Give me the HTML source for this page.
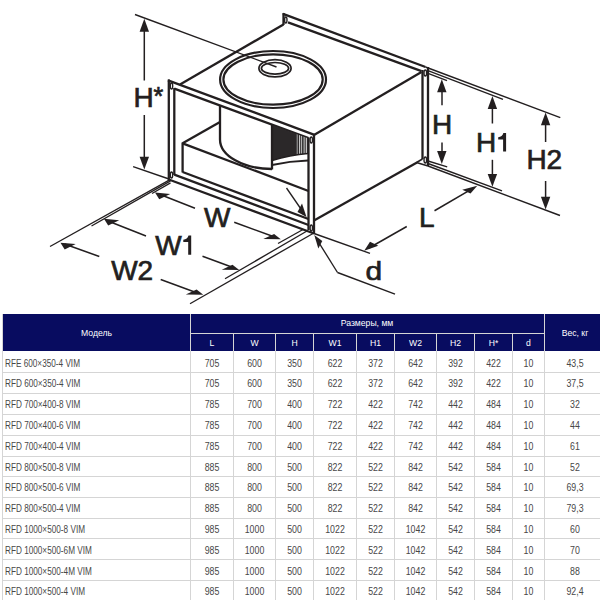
<!DOCTYPE html>
<html><head><meta charset="utf-8">
<style>
html,body{margin:0;padding:0;background:#fff;}
body{width:600px;height:600px;position:relative;overflow:hidden;font-family:"Liberation Sans",sans-serif;}
.a{position:absolute;}
.h{color:#fff;font-size:9.6px;text-align:center;letter-spacing:0px;white-space:nowrap;transform:scaleX(0.9);}
.b{color:#474747;font-size:10px;letter-spacing:0px;white-space:nowrap;transform:scaleX(0.88);}
.c{text-align:center;}
.m{letter-spacing:0px;transform:scaleX(0.82);transform-origin:0 50%;}
svg{position:absolute;left:0;top:0;}
</style></head><body>
<svg width="600" height="310" viewBox="0 0 600 310">
<g fill="none" stroke="#231f20" stroke-linecap="butt">
<line x1="180" y1="84.5" x2="283.5" y2="24.5" stroke-width="2.3"/>
<line x1="283.5" y1="13" x2="283.5" y2="25" stroke-width="2.3"/>
<line x1="283" y1="13.8" x2="425.5" y2="67" stroke-width="2.3"/>
<line x1="288" y1="22.3" x2="421.5" y2="71.2" stroke-width="2.3"/>
<ellipse cx="285.8" cy="20" rx="1.2" ry="3" stroke-width="1.4"/>
<line x1="422.5" y1="70" x2="422.5" y2="159" stroke-width="2.3"/>
<line x1="428" y1="67" x2="428" y2="166" stroke-width="2.3"/>
<ellipse cx="425.3" cy="73" rx="1.3" ry="3" stroke-width="1.4"/>
<ellipse cx="425.3" cy="160" rx="1.3" ry="3" stroke-width="1.4"/>
<line x1="416.5" y1="162.5" x2="422.5" y2="159" stroke-width="1.6"/>
<line x1="416.5" y1="162.5" x2="428" y2="166" stroke-width="1.6"/>
<line x1="314" y1="135" x2="421.5" y2="72" stroke-width="2.3"/>
<line x1="314" y1="220.5" x2="417" y2="162.5" stroke-width="2.3"/>
<line x1="168.8" y1="79.5" x2="168.8" y2="180.5" stroke-width="2.3"/>
<line x1="174.3" y1="88" x2="174.3" y2="175" stroke-width="2.3"/>
<line x1="168" y1="80.3" x2="314.5" y2="134.8" stroke-width="2.3"/>
<line x1="174.3" y1="88.7" x2="308.5" y2="138" stroke-width="2.3"/>
<line x1="314" y1="134" x2="314" y2="234" stroke-width="2.3"/>
<line x1="308.5" y1="137.5" x2="308.5" y2="230" stroke-width="2.3"/>
<line x1="174.3" y1="174.7" x2="308.5" y2="225" stroke-width="2.3"/>
<line x1="168.8" y1="179.5" x2="314" y2="233.5" stroke-width="2.3"/>
<ellipse cx="171.5" cy="86" rx="1.2" ry="3" stroke-width="1.4"/>
<ellipse cx="171.5" cy="175" rx="1.2" ry="3" stroke-width="1.4"/>
<ellipse cx="311.3" cy="140" rx="1.2" ry="3" stroke-width="1.4"/>
<ellipse cx="311.3" cy="228" rx="1.2" ry="3" stroke-width="1.4"/>
<line x1="182.6" y1="143.3" x2="220" y2="122" stroke-width="2.3"/>
<line x1="182.6" y1="143.3" x2="308.5" y2="191" stroke-width="2.3"/>
<line x1="182.6" y1="142.5" x2="182.6" y2="172.5" stroke-width="2.3"/>
<line x1="182.6" y1="172" x2="308.5" y2="219" stroke-width="2.3"/>
</g>
<path d="M272,125 L308,138.2 L308,153.5 Q290,155 272,160.5 Z" fill="#2b2829"/>
<defs><clipPath id="imp"><path d="M272,125 L308.5,138.4 L308.5,153.5 Q290,155 272,160.5 Z"/></clipPath><linearGradient id="g1" x1="0" x2="1" y1="0" y2="0"><stop offset="0" stop-color="#2b2829"/><stop offset="1" stop-color="#9a9a9a"/></linearGradient><linearGradient id="g2" x1="0" x2="1" y1="0" y2="0"><stop offset="0" stop-color="#4a4a4a"/><stop offset="1" stop-color="#a0a0a0"/></linearGradient></defs>
<g clip-path="url(#imp)">
<rect x="295.8" y="120" width="2.2" height="45" fill="url(#g1)"/>
<rect x="299" y="120" width="1.1" height="45" fill="#c4c4c4"/>
<rect x="300.9" y="120" width="1.1" height="45" fill="#b0b0b0"/>
<rect x="302.5" y="120" width="2.5" height="45" fill="url(#g2)"/>
<rect x="305.7" y="120" width="1.3" height="45" fill="#c6c6c6"/>
</g>
<g fill="none" stroke="#231f20">
<path d="M220,105.5 L220,139.5 A52,29.5 0 0 0 272,169" stroke-width="2.3" fill="none"/>
<line x1="272" y1="124.5" x2="272" y2="169.5" stroke-width="2.3"/>
<path d="M272,160.5 Q290,155 308,153.5" stroke-width="1.5" fill="none"/>
<path d="M272,165 Q290,161 308,160.5" stroke-width="1.8" fill="none"/>
<ellipse cx="273.05" cy="79.5" rx="52.95" ry="28.5" stroke-width="2.2"/>
<ellipse cx="273.05" cy="79.5" rx="49.65" ry="25.2" stroke-width="2.2"/>
<ellipse cx="275" cy="68.3" rx="16.1" ry="8.6" stroke-width="1.7"/>
<ellipse cx="275" cy="68.3" rx="13.6" ry="5.8" stroke-width="1.7"/>
<line x1="135" y1="14.5" x2="276.5" y2="67" stroke-width="1.35"/>
<line x1="133.1" y1="166.7" x2="168.3" y2="178.75" stroke-width="1.35"/>
<line x1="170.5" y1="182.8" x2="152" y2="193.5" stroke-width="1.35"/>
<line x1="170.5" y1="180.8" x2="91.5" y2="226" stroke-width="1.35"/>
<line x1="170.5" y1="179.3" x2="50" y2="246.5" stroke-width="1.35"/>
<line x1="303" y1="229.5" x2="278" y2="243.5" stroke-width="1.35"/>
<line x1="307" y1="231" x2="225" y2="278.75" stroke-width="1.35"/>
<line x1="313" y1="233.5" x2="190" y2="303.75" stroke-width="1.35"/>
<line x1="425.5" y1="67" x2="560.3" y2="117.7" stroke-width="1.35"/>
<line x1="428" y1="70.7" x2="503" y2="99.3" stroke-width="1.35"/>
<line x1="428" y1="73.3" x2="447" y2="80.7" stroke-width="1.35"/>
<line x1="428" y1="166" x2="560" y2="215.5" stroke-width="1.35"/>
<line x1="428" y1="163.5" x2="502" y2="190.8" stroke-width="1.35"/>
<line x1="428" y1="161" x2="447.2" y2="166.8" stroke-width="1.35"/>
<line x1="314" y1="233.5" x2="370" y2="253.3" stroke-width="1.35"/>
<line x1="316" y1="238" x2="337.5" y2="272.5" stroke-width="1.35"/>
<line x1="337.5" y1="272.5" x2="395" y2="294.2" stroke-width="1.35"/>
<line x1="286.5" y1="188" x2="303" y2="212" stroke-width="1.35"/>
<line x1="144.3" y1="25" x2="144.3" y2="80.5" stroke-width="1.5"/>
<line x1="144.3" y1="115" x2="144.3" y2="163" stroke-width="1.5"/>
<line x1="442" y1="85" x2="442" y2="105.3" stroke-width="1.5"/>
<line x1="442" y1="142.5" x2="442" y2="158" stroke-width="1.5"/>
<line x1="492.4" y1="102" x2="492.4" y2="123.5" stroke-width="1.5"/>
<line x1="492.4" y1="159.8" x2="492.4" y2="181" stroke-width="1.5"/>
<line x1="545.6" y1="118" x2="545.6" y2="142" stroke-width="1.5"/>
<line x1="545.6" y1="181" x2="545.6" y2="204" stroke-width="1.5"/>
<line x1="162" y1="195.2" x2="195" y2="208.3" stroke-width="1.5"/>
<line x1="234.2" y1="222.3" x2="276" y2="237.5" stroke-width="1.5"/>
<line x1="108" y1="221" x2="146" y2="236" stroke-width="1.5"/>
<line x1="202.5" y1="256.25" x2="233" y2="267.5" stroke-width="1.5"/>
<line x1="64.5" y1="244" x2="99.3" y2="256.5" stroke-width="1.5"/>
<line x1="160.7" y1="279.5" x2="198" y2="293.2" stroke-width="1.5"/>
<line x1="369" y1="248" x2="406.75" y2="226.5" stroke-width="1.5"/>
<line x1="434.5" y1="210.75" x2="472" y2="188.8" stroke-width="1.5"/>
</g>
<polygon points="144.30,18.80 139.60,31.70 149.00,31.70" fill="#231f20" stroke="none"/>
<polygon points="144.30,169.60 139.60,156.70 149.00,156.70" fill="#231f20" stroke="none"/>
<polygon points="441.80,79.30 437.10,92.20 446.50,92.20" fill="#231f20" stroke="none"/>
<polygon points="441.80,164.00 437.10,151.10 446.50,151.10" fill="#231f20" stroke="none"/>
<polygon points="492.40,96.00 487.70,108.90 497.10,108.90" fill="#231f20" stroke="none"/>
<polygon points="492.40,186.80 487.70,173.90 497.10,173.90" fill="#231f20" stroke="none"/>
<polygon points="545.60,112.40 540.90,125.30 550.30,125.30" fill="#231f20" stroke="none"/>
<polygon points="545.60,209.60 540.90,196.70 550.30,196.70" fill="#231f20" stroke="none"/>
<polygon points="155.00,192.50 170.20,193.90 159.20,199.30" fill="#231f20" stroke="none"/>
<polygon points="280.80,239.20 263.30,239.00 274.10,233.90" fill="#231f20" stroke="none"/>
<polygon points="104.00,218.80 119.20,220.20 108.20,225.60" fill="#231f20" stroke="none"/>
<polygon points="239.20,270.00 221.70,269.80 232.50,264.70" fill="#231f20" stroke="none"/>
<polygon points="60.50,242.70 75.70,244.10 64.70,249.50" fill="#231f20" stroke="none"/>
<polygon points="203.30,294.70 185.80,294.50 196.60,289.40" fill="#231f20" stroke="none"/>
<polygon points="477.25,185.70 462.25,189.75 470.50,193.50" fill="#231f20" stroke="none"/>
<polygon points="364.20,250.80 378.30,245.80 370.00,241.70" fill="#231f20" stroke="none"/>
<polygon points="306.50,217.00 297.50,212.00 302.00,203.50" fill="#231f20" stroke="none"/>
<polygon points="314.30,235.00 318.30,248.50 322.30,241.00" fill="#231f20" stroke="none"/>
<g fill="#231f20" stroke="#231f20" stroke-width="0.7" font-family="Liberation Sans" font-size="28">
<text x="133.6" y="107.3">H</text>
<text x="204" y="226.8">W</text>
<text x="155.2" y="254.8">W</text>
<text x="111.2" y="279.6">W2</text>
<text x="432" y="134.3">H</text>
<text x="476" y="151.6">H</text>
<text x="526.4" y="169.2">H2</text>
<text x="419" y="226.6">L</text>
<text transform="translate(365.4,280.4) scale(1.07,0.92)" x="0" y="0">d</text>
<text x="153.6" y="104.5" font-size="25">*</text>
</g>
<path d="M191.20,235.50 L191.20,254.80 L188.20,254.80 L188.20,241.90 L183.30,241.90 L183.30,239.70 Q187.40,239.30 188.50,235.50 Z" fill="#231f20"/>
<path d="M506.10,133.10 L506.10,151.60 L503.10,151.60 L503.10,139.50 L498.20,139.50 L498.20,137.30 Q502.30,136.90 503.40,133.10 Z" fill="#231f20"/>
</svg>
<div class="a" style="left:3px;top:314px;width:597px;height:37px;background:#080c60"></div>
<div class="a" style="left:2px;top:314px;width:1px;height:286px;background:#d5d5d5"></div>
<div class="a" style="left:190px;top:314px;width:1px;height:286px;background:#d5d5d5"></div>
<div class="a" style="left:233px;top:333px;width:1px;height:267px;background:#d5d5d5"></div>
<div class="a" style="left:275px;top:333px;width:1px;height:267px;background:#d5d5d5"></div>
<div class="a" style="left:313px;top:333px;width:1px;height:267px;background:#d5d5d5"></div>
<div class="a" style="left:356px;top:333px;width:1px;height:267px;background:#d5d5d5"></div>
<div class="a" style="left:394px;top:333px;width:1px;height:267px;background:#d5d5d5"></div>
<div class="a" style="left:436px;top:333px;width:1px;height:267px;background:#d5d5d5"></div>
<div class="a" style="left:474px;top:333px;width:1px;height:267px;background:#d5d5d5"></div>
<div class="a" style="left:512px;top:333px;width:1px;height:267px;background:#d5d5d5"></div>
<div class="a" style="left:544px;top:314px;width:1px;height:286px;background:#d5d5d5"></div>
<div class="a" style="left:190px;top:333px;width:355px;height:1px;background:#d5d5d5"></div>
<div class="a" style="left:2px;top:372px;width:598px;height:1px;background:#d5d5d5"></div>
<div class="a" style="left:2px;top:393px;width:598px;height:1px;background:#d5d5d5"></div>
<div class="a" style="left:2px;top:414px;width:598px;height:1px;background:#d5d5d5"></div>
<div class="a" style="left:2px;top:435px;width:598px;height:1px;background:#d5d5d5"></div>
<div class="a" style="left:2px;top:456px;width:598px;height:1px;background:#d5d5d5"></div>
<div class="a" style="left:2px;top:476px;width:598px;height:1px;background:#d5d5d5"></div>
<div class="a" style="left:2px;top:497px;width:598px;height:1px;background:#d5d5d5"></div>
<div class="a" style="left:2px;top:518px;width:598px;height:1px;background:#d5d5d5"></div>
<div class="a" style="left:2px;top:538px;width:598px;height:1px;background:#d5d5d5"></div>
<div class="a" style="left:2px;top:559px;width:598px;height:1px;background:#d5d5d5"></div>
<div class="a" style="left:2px;top:580px;width:598px;height:1px;background:#d5d5d5"></div>
<div class="a h" style="left:3px;top:313.5px;width:187px;height:37.0px;line-height:37.0px">Модель</div>
<div class="a h" style="left:190px;top:312.5px;width:354px;height:19.0px;line-height:19.0px">Размеры, мм</div>
<div class="a h" style="left:545px;top:313.5px;width:60px;height:37.0px;line-height:37.0px">Вес, кг</div>
<div class="a h" style="left:191px;top:333.5px;width:42px;height:17.0px;line-height:17.0px">L</div>
<div class="a h" style="left:234px;top:333.5px;width:41px;height:17.0px;line-height:17.0px">W</div>
<div class="a h" style="left:276px;top:333.5px;width:37px;height:17.0px;line-height:17.0px">H</div>
<div class="a h" style="left:314px;top:333.5px;width:42px;height:17.0px;line-height:17.0px">W1</div>
<div class="a h" style="left:357px;top:333.5px;width:37px;height:17.0px;line-height:17.0px">H1</div>
<div class="a h" style="left:395px;top:333.5px;width:41px;height:17.0px;line-height:17.0px">W2</div>
<div class="a h" style="left:437px;top:333.5px;width:37px;height:17.0px;line-height:17.0px">H2</div>
<div class="a h" style="left:475px;top:333.5px;width:37px;height:17.0px;line-height:17.0px">H*</div>
<div class="a h" style="left:513px;top:333.5px;width:31px;height:17.0px;line-height:17.0px">d</div>
<div class="a b m" style="left:5px;top:353.5px;height:20px;line-height:20px">RFE 600×350-4 VIM</div>
<div class="a b c" style="left:191px;top:353.5px;width:42px;height:20.0px;line-height:20.0px">705</div>
<div class="a b c" style="left:234px;top:353.5px;width:41px;height:20.0px;line-height:20.0px">600</div>
<div class="a b c" style="left:276px;top:353.5px;width:37px;height:20.0px;line-height:20.0px">350</div>
<div class="a b c" style="left:314px;top:353.5px;width:42px;height:20.0px;line-height:20.0px">622</div>
<div class="a b c" style="left:357px;top:353.5px;width:37px;height:20.0px;line-height:20.0px">372</div>
<div class="a b c" style="left:395px;top:353.5px;width:41px;height:20.0px;line-height:20.0px">642</div>
<div class="a b c" style="left:437px;top:353.5px;width:37px;height:20.0px;line-height:20.0px">392</div>
<div class="a b c" style="left:475px;top:353.5px;width:37px;height:20.0px;line-height:20.0px">422</div>
<div class="a b c" style="left:513px;top:353.5px;width:31px;height:20.0px;line-height:20.0px">10</div>
<div class="a b c" style="left:545px;top:353.5px;width:60px;height:20.0px;line-height:20.0px">43,5</div>
<div class="a b m" style="left:5px;top:374.3px;height:20px;line-height:20px">RFD 600×350-4 VIM</div>
<div class="a b c" style="left:191px;top:374.3px;width:42px;height:20.0px;line-height:20.0px">705</div>
<div class="a b c" style="left:234px;top:374.3px;width:41px;height:20.0px;line-height:20.0px">600</div>
<div class="a b c" style="left:276px;top:374.3px;width:37px;height:20.0px;line-height:20.0px">350</div>
<div class="a b c" style="left:314px;top:374.3px;width:42px;height:20.0px;line-height:20.0px">622</div>
<div class="a b c" style="left:357px;top:374.3px;width:37px;height:20.0px;line-height:20.0px">372</div>
<div class="a b c" style="left:395px;top:374.3px;width:41px;height:20.0px;line-height:20.0px">642</div>
<div class="a b c" style="left:437px;top:374.3px;width:37px;height:20.0px;line-height:20.0px">392</div>
<div class="a b c" style="left:475px;top:374.3px;width:37px;height:20.0px;line-height:20.0px">422</div>
<div class="a b c" style="left:513px;top:374.3px;width:31px;height:20.0px;line-height:20.0px">10</div>
<div class="a b c" style="left:545px;top:374.3px;width:60px;height:20.0px;line-height:20.0px">37,5</div>
<div class="a b m" style="left:5px;top:395.1px;height:20px;line-height:20px">RFD 700×400-8 VIM</div>
<div class="a b c" style="left:191px;top:395.1px;width:42px;height:20.0px;line-height:20.0px">785</div>
<div class="a b c" style="left:234px;top:395.1px;width:41px;height:20.0px;line-height:20.0px">700</div>
<div class="a b c" style="left:276px;top:395.1px;width:37px;height:20.0px;line-height:20.0px">400</div>
<div class="a b c" style="left:314px;top:395.1px;width:42px;height:20.0px;line-height:20.0px">722</div>
<div class="a b c" style="left:357px;top:395.1px;width:37px;height:20.0px;line-height:20.0px">422</div>
<div class="a b c" style="left:395px;top:395.1px;width:41px;height:20.0px;line-height:20.0px">742</div>
<div class="a b c" style="left:437px;top:395.1px;width:37px;height:20.0px;line-height:20.0px">442</div>
<div class="a b c" style="left:475px;top:395.1px;width:37px;height:20.0px;line-height:20.0px">484</div>
<div class="a b c" style="left:513px;top:395.1px;width:31px;height:20.0px;line-height:20.0px">10</div>
<div class="a b c" style="left:545px;top:395.1px;width:60px;height:20.0px;line-height:20.0px">32</div>
<div class="a b m" style="left:5px;top:415.9px;height:20px;line-height:20px">RFD 700×400-6 VIM</div>
<div class="a b c" style="left:191px;top:415.9px;width:42px;height:20.0px;line-height:20.0px">785</div>
<div class="a b c" style="left:234px;top:415.9px;width:41px;height:20.0px;line-height:20.0px">700</div>
<div class="a b c" style="left:276px;top:415.9px;width:37px;height:20.0px;line-height:20.0px">400</div>
<div class="a b c" style="left:314px;top:415.9px;width:42px;height:20.0px;line-height:20.0px">722</div>
<div class="a b c" style="left:357px;top:415.9px;width:37px;height:20.0px;line-height:20.0px">422</div>
<div class="a b c" style="left:395px;top:415.9px;width:41px;height:20.0px;line-height:20.0px">742</div>
<div class="a b c" style="left:437px;top:415.9px;width:37px;height:20.0px;line-height:20.0px">442</div>
<div class="a b c" style="left:475px;top:415.9px;width:37px;height:20.0px;line-height:20.0px">484</div>
<div class="a b c" style="left:513px;top:415.9px;width:31px;height:20.0px;line-height:20.0px">10</div>
<div class="a b c" style="left:545px;top:415.9px;width:60px;height:20.0px;line-height:20.0px">44</div>
<div class="a b m" style="left:5px;top:436.7px;height:20px;line-height:20px">RFD 700×400-4 VIM</div>
<div class="a b c" style="left:191px;top:436.7px;width:42px;height:20.0px;line-height:20.0px">785</div>
<div class="a b c" style="left:234px;top:436.7px;width:41px;height:20.0px;line-height:20.0px">700</div>
<div class="a b c" style="left:276px;top:436.7px;width:37px;height:20.0px;line-height:20.0px">400</div>
<div class="a b c" style="left:314px;top:436.7px;width:42px;height:20.0px;line-height:20.0px">722</div>
<div class="a b c" style="left:357px;top:436.7px;width:37px;height:20.0px;line-height:20.0px">422</div>
<div class="a b c" style="left:395px;top:436.7px;width:41px;height:20.0px;line-height:20.0px">742</div>
<div class="a b c" style="left:437px;top:436.7px;width:37px;height:20.0px;line-height:20.0px">442</div>
<div class="a b c" style="left:475px;top:436.7px;width:37px;height:20.0px;line-height:20.0px">484</div>
<div class="a b c" style="left:513px;top:436.7px;width:31px;height:20.0px;line-height:20.0px">10</div>
<div class="a b c" style="left:545px;top:436.7px;width:60px;height:20.0px;line-height:20.0px">61</div>
<div class="a b m" style="left:5px;top:457.5px;height:20px;line-height:20px">RFD 800×500-8 VIM</div>
<div class="a b c" style="left:191px;top:457.5px;width:42px;height:20.0px;line-height:20.0px">885</div>
<div class="a b c" style="left:234px;top:457.5px;width:41px;height:20.0px;line-height:20.0px">800</div>
<div class="a b c" style="left:276px;top:457.5px;width:37px;height:20.0px;line-height:20.0px">500</div>
<div class="a b c" style="left:314px;top:457.5px;width:42px;height:20.0px;line-height:20.0px">822</div>
<div class="a b c" style="left:357px;top:457.5px;width:37px;height:20.0px;line-height:20.0px">522</div>
<div class="a b c" style="left:395px;top:457.5px;width:41px;height:20.0px;line-height:20.0px">842</div>
<div class="a b c" style="left:437px;top:457.5px;width:37px;height:20.0px;line-height:20.0px">542</div>
<div class="a b c" style="left:475px;top:457.5px;width:37px;height:20.0px;line-height:20.0px">584</div>
<div class="a b c" style="left:513px;top:457.5px;width:31px;height:20.0px;line-height:20.0px">10</div>
<div class="a b c" style="left:545px;top:457.5px;width:60px;height:20.0px;line-height:20.0px">52</div>
<div class="a b m" style="left:5px;top:478.3px;height:20px;line-height:20px">RFD 800×500-6 VIM</div>
<div class="a b c" style="left:191px;top:478.3px;width:42px;height:20.0px;line-height:20.0px">885</div>
<div class="a b c" style="left:234px;top:478.3px;width:41px;height:20.0px;line-height:20.0px">800</div>
<div class="a b c" style="left:276px;top:478.3px;width:37px;height:20.0px;line-height:20.0px">500</div>
<div class="a b c" style="left:314px;top:478.3px;width:42px;height:20.0px;line-height:20.0px">822</div>
<div class="a b c" style="left:357px;top:478.3px;width:37px;height:20.0px;line-height:20.0px">522</div>
<div class="a b c" style="left:395px;top:478.3px;width:41px;height:20.0px;line-height:20.0px">842</div>
<div class="a b c" style="left:437px;top:478.3px;width:37px;height:20.0px;line-height:20.0px">542</div>
<div class="a b c" style="left:475px;top:478.3px;width:37px;height:20.0px;line-height:20.0px">584</div>
<div class="a b c" style="left:513px;top:478.3px;width:31px;height:20.0px;line-height:20.0px">10</div>
<div class="a b c" style="left:545px;top:478.3px;width:60px;height:20.0px;line-height:20.0px">69,3</div>
<div class="a b m" style="left:5px;top:499.1px;height:20px;line-height:20px">RFD 800×500-4 VIM</div>
<div class="a b c" style="left:191px;top:499.1px;width:42px;height:20.0px;line-height:20.0px">885</div>
<div class="a b c" style="left:234px;top:499.1px;width:41px;height:20.0px;line-height:20.0px">800</div>
<div class="a b c" style="left:276px;top:499.1px;width:37px;height:20.0px;line-height:20.0px">500</div>
<div class="a b c" style="left:314px;top:499.1px;width:42px;height:20.0px;line-height:20.0px">822</div>
<div class="a b c" style="left:357px;top:499.1px;width:37px;height:20.0px;line-height:20.0px">522</div>
<div class="a b c" style="left:395px;top:499.1px;width:41px;height:20.0px;line-height:20.0px">842</div>
<div class="a b c" style="left:437px;top:499.1px;width:37px;height:20.0px;line-height:20.0px">542</div>
<div class="a b c" style="left:475px;top:499.1px;width:37px;height:20.0px;line-height:20.0px">584</div>
<div class="a b c" style="left:513px;top:499.1px;width:31px;height:20.0px;line-height:20.0px">10</div>
<div class="a b c" style="left:545px;top:499.1px;width:60px;height:20.0px;line-height:20.0px">79,3</div>
<div class="a b m" style="left:5px;top:519.9px;height:20px;line-height:20px">RFD 1000×500-8 VIM</div>
<div class="a b c" style="left:191px;top:519.9px;width:42px;height:20.0px;line-height:20.0px">985</div>
<div class="a b c" style="left:234px;top:519.9px;width:41px;height:20.0px;line-height:20.0px">1000</div>
<div class="a b c" style="left:276px;top:519.9px;width:37px;height:20.0px;line-height:20.0px">500</div>
<div class="a b c" style="left:314px;top:519.9px;width:42px;height:20.0px;line-height:20.0px">1022</div>
<div class="a b c" style="left:357px;top:519.9px;width:37px;height:20.0px;line-height:20.0px">522</div>
<div class="a b c" style="left:395px;top:519.9px;width:41px;height:20.0px;line-height:20.0px">1042</div>
<div class="a b c" style="left:437px;top:519.9px;width:37px;height:20.0px;line-height:20.0px">542</div>
<div class="a b c" style="left:475px;top:519.9px;width:37px;height:20.0px;line-height:20.0px">584</div>
<div class="a b c" style="left:513px;top:519.9px;width:31px;height:20.0px;line-height:20.0px">10</div>
<div class="a b c" style="left:545px;top:519.9px;width:60px;height:20.0px;line-height:20.0px">60</div>
<div class="a b m" style="left:5px;top:540.7px;height:20px;line-height:20px">RFD 1000×500-6M VIM</div>
<div class="a b c" style="left:191px;top:540.7px;width:42px;height:20.0px;line-height:20.0px">985</div>
<div class="a b c" style="left:234px;top:540.7px;width:41px;height:20.0px;line-height:20.0px">1000</div>
<div class="a b c" style="left:276px;top:540.7px;width:37px;height:20.0px;line-height:20.0px">500</div>
<div class="a b c" style="left:314px;top:540.7px;width:42px;height:20.0px;line-height:20.0px">1022</div>
<div class="a b c" style="left:357px;top:540.7px;width:37px;height:20.0px;line-height:20.0px">522</div>
<div class="a b c" style="left:395px;top:540.7px;width:41px;height:20.0px;line-height:20.0px">1042</div>
<div class="a b c" style="left:437px;top:540.7px;width:37px;height:20.0px;line-height:20.0px">542</div>
<div class="a b c" style="left:475px;top:540.7px;width:37px;height:20.0px;line-height:20.0px">584</div>
<div class="a b c" style="left:513px;top:540.7px;width:31px;height:20.0px;line-height:20.0px">10</div>
<div class="a b c" style="left:545px;top:540.7px;width:60px;height:20.0px;line-height:20.0px">70</div>
<div class="a b m" style="left:5px;top:561.5px;height:20px;line-height:20px">RFD 1000×500-4M VIM</div>
<div class="a b c" style="left:191px;top:561.5px;width:42px;height:20.0px;line-height:20.0px">985</div>
<div class="a b c" style="left:234px;top:561.5px;width:41px;height:20.0px;line-height:20.0px">1000</div>
<div class="a b c" style="left:276px;top:561.5px;width:37px;height:20.0px;line-height:20.0px">500</div>
<div class="a b c" style="left:314px;top:561.5px;width:42px;height:20.0px;line-height:20.0px">1022</div>
<div class="a b c" style="left:357px;top:561.5px;width:37px;height:20.0px;line-height:20.0px">522</div>
<div class="a b c" style="left:395px;top:561.5px;width:41px;height:20.0px;line-height:20.0px">1042</div>
<div class="a b c" style="left:437px;top:561.5px;width:37px;height:20.0px;line-height:20.0px">542</div>
<div class="a b c" style="left:475px;top:561.5px;width:37px;height:20.0px;line-height:20.0px">584</div>
<div class="a b c" style="left:513px;top:561.5px;width:31px;height:20.0px;line-height:20.0px">10</div>
<div class="a b c" style="left:545px;top:561.5px;width:60px;height:20.0px;line-height:20.0px">88</div>
<div class="a b m" style="left:5px;top:582.3px;height:20px;line-height:20px">RFD 1000×500-4 VIM</div>
<div class="a b c" style="left:191px;top:582.3px;width:42px;height:20.0px;line-height:20.0px">985</div>
<div class="a b c" style="left:234px;top:582.3px;width:41px;height:20.0px;line-height:20.0px">1000</div>
<div class="a b c" style="left:276px;top:582.3px;width:37px;height:20.0px;line-height:20.0px">500</div>
<div class="a b c" style="left:314px;top:582.3px;width:42px;height:20.0px;line-height:20.0px">1022</div>
<div class="a b c" style="left:357px;top:582.3px;width:37px;height:20.0px;line-height:20.0px">522</div>
<div class="a b c" style="left:395px;top:582.3px;width:41px;height:20.0px;line-height:20.0px">1042</div>
<div class="a b c" style="left:437px;top:582.3px;width:37px;height:20.0px;line-height:20.0px">542</div>
<div class="a b c" style="left:475px;top:582.3px;width:37px;height:20.0px;line-height:20.0px">584</div>
<div class="a b c" style="left:513px;top:582.3px;width:31px;height:20.0px;line-height:20.0px">10</div>
<div class="a b c" style="left:545px;top:582.3px;width:60px;height:20.0px;line-height:20.0px">92,4</div>
</body></html>
